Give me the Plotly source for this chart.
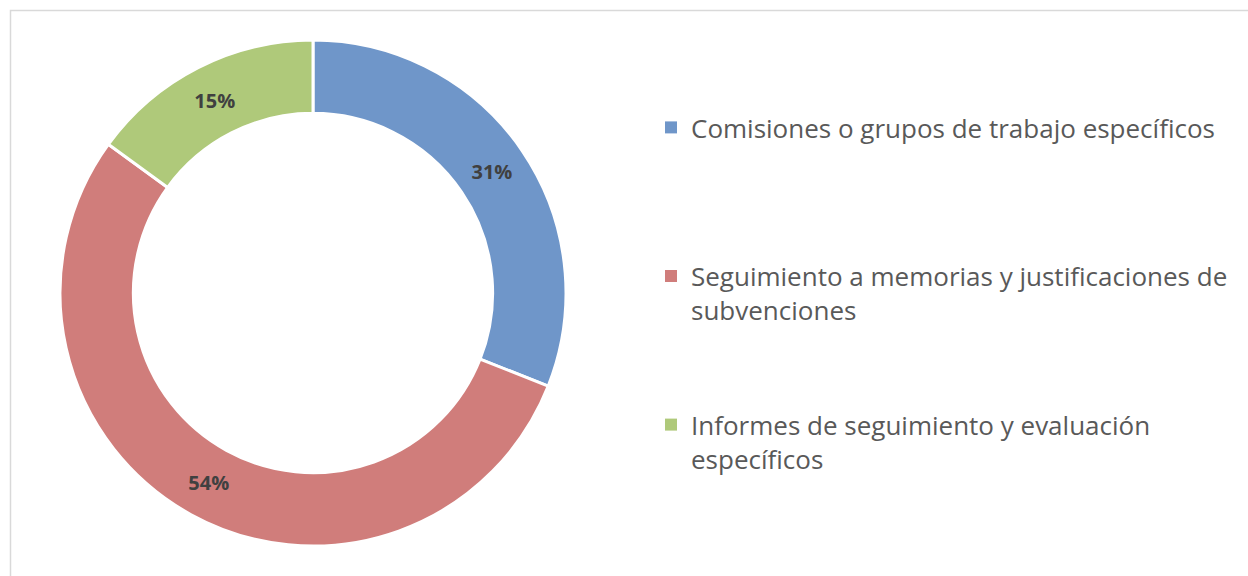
import plotly.graph_objects as go

categories = [
    "Comisiones o grupos de trabajo específicos",
    "Seguimiento a memorias y justificaciones de<br>subvenciones",
    "Informes de seguimiento y evaluación<br>específicos",
]
legend_labels = [
    "Comisiones o grupos de trabajo específicos<br> ",
    "Seguimiento a memorias y justificaciones de<br>subvenciones",
    "Informes de seguimiento y evaluación<br>específicos",
]
values = [31, 54, 15]
colors = ["#6F96C9", "#D07D7B", "#AFC97A"]

W, H = 1248, 576
fig = go.Figure()

fig.add_trace(go.Pie(
    labels=categories,
    values=values,
    sort=False,
    direction="clockwise",
    rotation=0,
    hole=0.71,
    marker=dict(colors=colors, line=dict(color="white", width=3)),
    texttemplate="%{percent:.0%}",
    textposition="inside",
    insidetextorientation="horizontal",
    textfont=dict(family="Open Sans", size=20, color="#404040", weight="bold"),
    showlegend=False,
    domain=dict(x=[60 / W, 566 / W], y=[30 / H, 536 / H]),
))

for i, (lab, col) in enumerate(zip(legend_labels, colors)):
    fig.add_trace(go.Scatter(
        x=[None], y=[None], mode="markers",
        marker=dict(symbol="square", size=10, color=col),
        name=lab, legendgroup=f"g{i}", showlegend=True,
    ))

fig.update_layout(
    width=W, height=H,
    margin=dict(l=0, r=0, t=0, b=0),
    paper_bgcolor="white", plot_bgcolor="white",
    xaxis=dict(visible=False), yaxis=dict(visible=False),
    legend=dict(
        x=651 / W, y=1 - 104 / H, xanchor="left", yanchor="top",
        font=dict(family="Open Sans", size=26, color="#595959"),
        tracegroupgap=78, valign="top", itemsizing="constant",
        bgcolor="rgba(0,0,0,0)",
    ),
    shapes=[dict(
        type="rect", xref="paper", yref="paper",
        x0=10.5 / W, x1=1.02, y0=-0.02, y1=1 - 10.5 / H,
        line=dict(color="#D9D9D9", width=1.5), fillcolor="rgba(0,0,0,0)",
        layer="below",
    )],
)

fig.write_html("out.html", config={"displayModeBar": False},
               post_script="document.body.style.margin='0';")
